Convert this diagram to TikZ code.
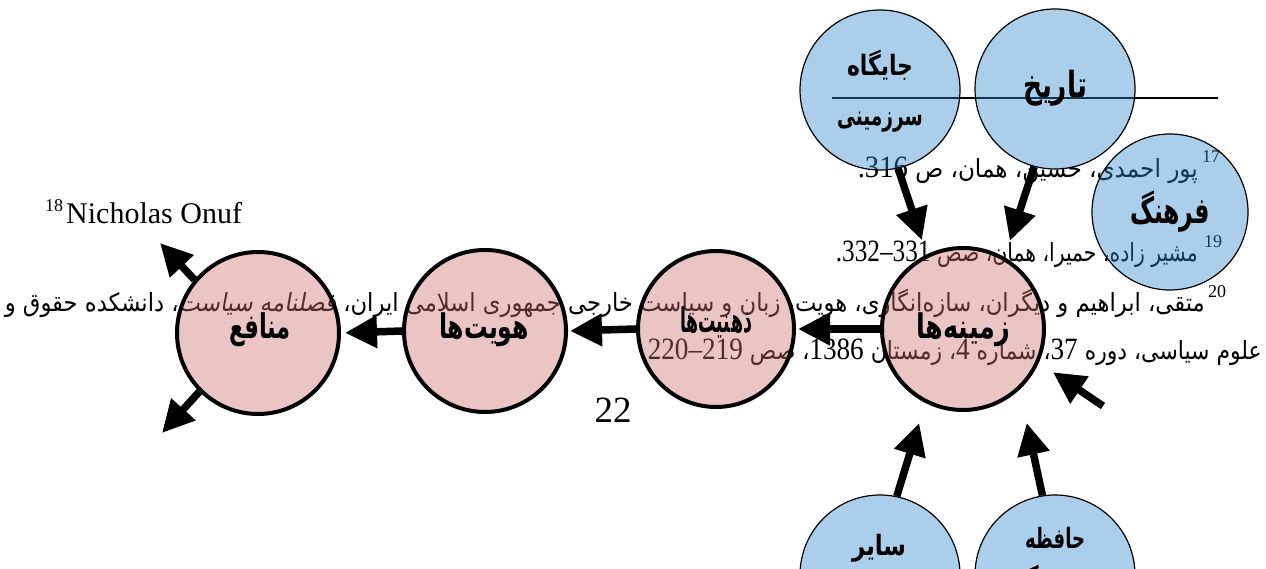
\documentclass[tikz,border=0pt]{standalone}
\usepackage{fontspec}
\usepackage{graphicx}
\setmainfont{Liberation Serif}
\newfontfamily\fa[Script=Arabic]{DejaVu Sans}
\newfontfamily\fasl[Script=Arabic,FakeSlant=0.2]{DejaVu Sans}
\TeXXeTstate=1
\usetikzlibrary{arrows.meta}
\definecolor{pinkbase}{RGB}{202,110,105}
\definecolor{bluebase}{RGB}{45,135,202}
\newcommand{\nm}[1]{{\rmfamily\fontsize{31}{31}\selectfont\beginL #1\endL}}
\newcommand{\fnl}[2]{\resizebox{#1}{\height}{#2}}
\tikzset{
 pinkc/.style={circle,draw=black,line width=4pt,fill=pinkbase,fill opacity=0.4,draw opacity=1,minimum size=162pt,inner sep=0pt},
 bluec/.style={circle,draw=black,line width=1.2pt,fill=bluebase,fill opacity=0.4,draw opacity=1,minimum size=160pt,inner sep=0pt},
 lab/.style={font=\fa\bfseries\fontsize{34}{40}\selectfont,inner sep=0pt},
 labs/.style={font=\fa\bfseries\fontsize{28}{32}\selectfont,inner sep=0pt},
 labl/.style={font=\fa\bfseries\fontsize{36}{42}\selectfont,inner sep=0pt},
 fn/.style={font=\fa\fontsize{25}{30}\selectfont,inner sep=0pt},
 supnum/.style={font=\rmfamily\fontsize{18}{18}\selectfont,inner sep=0pt},
 arr/.style={line width=7.5pt,-{Triangle[length=32pt,width=31pt]}},
}
\begin{document}
\begin{tikzpicture}[x=1pt,y=1pt]
\useasboundingbox (0,0) rectangle (1266,569);
\clip (0,0) rectangle (1266,569);
% footnote separator
\draw[line width=2pt] (832,471) -- (1218,471);
% footnotes
\node[supnum,anchor=base west] (n17) at (1202,406) {17};
\node[fn,anchor=base east] (f17) at (1198,391) {\fnl{340pt}{\beginR پور احمدی، حسین، همان، ص \nm{.316}\endR}};
\node[supnum,anchor=base west] (n18) at (45,357) {18};
\node[font=\rmfamily\fontsize{30}{30}\selectfont,inner sep=0pt,anchor=base west] (f18) at (66,345) {Nicholas Onuf};
\node[supnum,anchor=base west] (n19) at (1204,321) {19};
\node[fn,anchor=base east] (f19) at (1198,307) {\fnl{362pt}{\beginR مشیر زاده، حمیرا، همان، صص \nm{.332–331}\endR}};
\node[supnum,anchor=base west] (n20) at (1208,271) {20};
\node[fn,anchor=base east] (f20a) at (1205,257) {\fnl{1200pt}{\beginR متقی، ابراهیم و دیگران، سازه‌انگاری، هویت، زبان و سیاست خارجی جمهوری اسلامی ایران، {\fasl فصلنامه سیاست}، دانشکده حقوق و\endR}};
\node[fn,anchor=base east] (f20b) at (1262,209) {\fnl{614pt}{\beginR علوم سیاسی، دوره \nm{37}، شماره \nm{4}، زمستان \nm{1386}، صص \nm{220–219}\endR}};
\node[font=\rmfamily\fontsize{37}{37}\selectfont,inner sep=0pt,anchor=base] (pg) at (613,146) {22};
% circles
\node[bluec] (jaygah) at (880,479) {};
\node[bluec] (tarikh) at (1055,480) {};
\node[bluec,minimum size=156pt] (farhang) at (1170,357) {};
\node[pinkc] (zamineh) at (963,240) {};
\node[pinkc,minimum size=156pt] (zehniyat) at (716,240) {};
\node[pinkc] (hoviyat) at (485,238) {};
\node[pinkc] (manafe) at (258,236) {};
\node[bluec] (sayer) at (880,-6) {};
\node[bluec] (hafezeh) at (1055,-6) {};
% labels
\node[labs] (ljay1) at (880,504) {\fnl{66pt}{جایگاه}};
\node[labs] (ljay2) at (880,447) {\fnl{86pt}{سرزمینی}};
\node[labl] (ltar) at (1055,481) {\fnl{64pt}{تاریخ}};
\node[labl] (lfar) at (1170,357) {\fnl{80pt}{فرهنگ}};
\node[lab] (lzam) at (963,239) {\fnl{94pt}{زمینه‌ها}};
\node[lab] (lzeh) at (716,247) {\fnl{72pt}{ذهنیت‌ها}};
\node[lab] (lhov) at (484,239) {\fnl{90pt}{هویت‌ها}};
\node[lab] (lman) at (260,239) {\fnl{62pt}{منافع}};
\node[labs] (lsay) at (879,21) {\fnl{54pt}{سایر}};
\node[labs] (lhaf1) at (1055,31) {\fnl{60pt}{حافظه}};
\node[labs] (lhaf2) at (1055,-10) {\fnl{74pt}{مشترک}};
% arrows
\coordinate (c3) at (1103,163);
\coordinate (ul) at (160,326);
\coordinate (ll) at (162,136);
\draw[arr,shorten >=15pt] (jaygah.-77) -- (zamineh.116);
\draw[arr,shorten >=17pt] (tarikh.-105) -- (zamineh.60);
\draw[arr,shorten >=17pt] (c3) -- (zamineh.-24);
\draw[arr,shorten >=21pt] (sayer.78) -- (zamineh.-117);
\draw[arr,shorten >=34pt] (hafezeh.99) -- (zamineh.-47);
\draw[arr,shorten >=2pt] (zamineh.west) -- (zehniyat.east);
\draw[arr,shorten >=2pt] (zehniyat.west) -- (hoviyat.east);
\draw[arr,shorten >=4pt] (hoviyat.west) -- (manafe.east);
\draw[arr] (manafe.140) -- (ul);
\draw[arr] (manafe.-135) -- (ll);
\end{tikzpicture}
\end{document}
